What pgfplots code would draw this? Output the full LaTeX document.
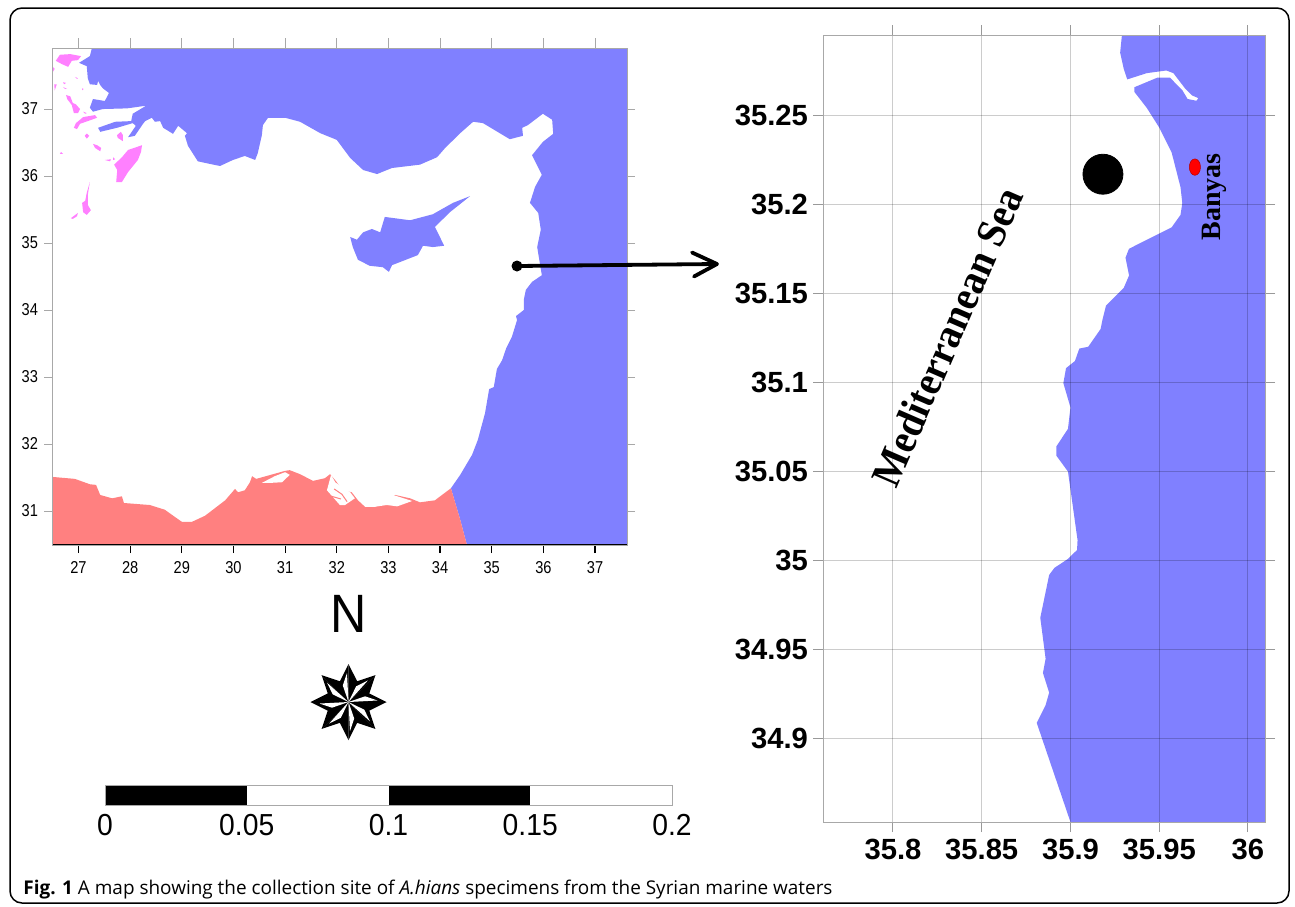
\documentclass[border=0pt]{standalone}
\usepackage{pgfplots}
\pgfplotsset{compat=1.18}
\usepackage{fontspec}
\setmainfont{Liberation Sans}
\newfontfamily\nar[FakeStretch=0.85]{Liberation Sans}
\newfontfamily\narb[FakeStretch=0.93]{Liberation Sans}
\newfontfamily\capf{Open Sans}
\newfontfamily\tms{Liberation Serif}
\newfontfamily\tmsn[FakeStretch=0.93]{Liberation Serif}
\definecolor{seablue}{HTML}{8080FF}
\definecolor{landred}{HTML}{FF8080}
\definecolor{isle}{HTML}{FF80FF}
\definecolor{edge}{HTML}{A8A8A8}
\pgfplotstableread{
lon lat
27.26 37.911
27.22 37.79
27.01 37.69
27.16 37.64
27.18 37.46
27.22 37.37
27.36 37.36
27.38 37.42
27.42 37.36
27.47 37.31
27.59 37.24
27.51 37.12
27.28 37.15
27.22 37.02
27.28 36.96
27.47 37.00
27.94 37.01
28.31 37.05
28.05 36.93
28.02 36.82
27.71 36.81
27.38 36.72
27.42 36.66
27.745 36.72
28.05 36.79
28.11 36.75
27.96 36.58
28.09 36.60
28.25 36.78
28.29 36.82
28.42 36.87
28.48 36.81
28.58 36.82
28.64 36.72
28.83 36.63
28.93 36.75
29.10 36.64
29.06 36.60
29.12 36.45
29.31 36.22
29.55 36.18
29.74 36.15
29.99 36.24
30.22 36.30
30.42 36.24
30.47 36.34
30.55 36.61
30.57 36.76
30.67 36.87
31.00 36.87
31.29 36.81
31.68 36.64
32.00 36.54
32.26 36.27
32.51 36.09
32.78 36.03
33.07 36.12
33.61 36.17
33.94 36.28
34.10 36.42
34.39 36.64
34.64 36.81
34.83 36.79
35.35 36.55
35.605 36.60
35.59 36.72
35.70 36.76
35.99 36.93
36.17 36.84
36.19 36.63
35.99 36.51
35.78 36.31
35.97 36.02
35.84 35.84
35.74 35.60
35.90 35.45
35.95 35.20
35.88 34.94
35.97 34.52
35.78 34.42
35.66 34.30
35.62 34.15
35.62 34.00
35.47 33.91
35.49 33.85
35.39 33.60
35.28 33.43
35.20 33.25
35.10 33.12
35.04 32.85
34.95 32.82
34.87 32.46
34.73 32.06
34.62 31.84
34.39 31.54
34.21 31.34
34.39 30.87
34.52 30.493
37.619 30.493
37.619 37.911
}\seaN
\pgfplotstableread{
lon lat
32.26 35.09
32.39 35.05
32.51 35.16
32.68 35.21
32.84 35.16
32.93 35.39
33.42 35.34
33.86 35.43
34.25 35.60
34.58 35.70
34.19 35.46
33.90 35.24
34.08 34.96
33.86 34.94
33.67 34.96
33.57 34.82
33.07 34.67
33.01 34.57
32.89 34.64
32.64 34.66
32.41 34.75
32.31 34.94
}\cyprus
\pgfplotstableread{
lon lat
26.487 30.493
26.487 31.51
26.93 31.48
27.22 31.40
27.34 31.39
27.42 31.24
27.65 31.19
27.84 31.22
27.88 31.12
28.38 31.09
28.67 31.02
28.87 30.91
29.00 30.84
29.20 30.84
29.45 30.93
29.84 31.16
30.03 31.33
30.09 31.28
30.22 31.31
30.32 31.43
30.36 31.52
30.44 31.48
31.00 31.60
31.09 31.61
31.29 31.55
31.54 31.45
31.77 31.49
31.87 31.55
31.97 31.46
32.12 31.31
32.29 31.28
32.41 31.16
32.55 31.06
32.74 31.06
33.13 31.24
33.42 31.19
33.61 31.13
33.90 31.16
34.21 31.34
34.39 30.87
34.52 30.493
}\south
\pgfplotstableread{
lon lat
35.929 35.2949
35.928 35.285
35.930 35.276
35.932 35.270
35.943 35.2735
35.954 35.275
35.958 35.2735
35.9645 35.265
35.9685 35.261
35.972 35.2595
35.971 35.258
35.966 35.259
35.963 35.264
35.956 35.271
35.949 35.271
35.936 35.2656
35.936 35.263
35.943 35.254
35.950 35.243
35.957 35.229
35.962 35.2095
35.963 35.2006
35.962 35.194
35.957 35.187
35.933 35.175
35.931 35.170
35.933 35.160
35.930 35.153
35.920 35.143
35.918 35.135
35.917 35.130
35.910 35.120
35.905 35.119
35.9025 35.112
35.8975 35.108
35.896 35.0996
35.900 35.086
35.8986 35.074
35.892 35.064
35.892 35.059
35.8986 35.050
35.904 35.0115
35.9037 35.006
35.8986 35.001
35.891 34.996
35.888 34.992
35.883 34.968
35.886 34.945
35.8845 34.937
35.888 34.926
35.886 34.919
35.881 34.909
35.900 34.8534
36.0096 34.8534
36.0096 35.2949
}\coast
\begin{document}
\begin{tikzpicture}
\useasboundingbox (0,0) rectangle (647.5pt,-453pt);
% ---- left map
\begin{axis}[
  at={(26pt,-272.5pt)}, anchor=south west, scale only axis,
  width=287.5pt, height=248.5pt,
  xmin=26.487, xmax=37.619, ymin=30.493, ymax=37.911,
  xtick={27,28,29,30,31,32,33,34,35,36,37}, ytick={31,32,33,34,35,36,37},
  xticklabels={27,28,29,30,31,32,33,34,35,36,37}, yticklabels={31,32,33,34,35,36,37},
  xtick pos=bottom, ytick pos=both, yticklabel pos=left,
  tick align=outside, major tick length=4pt,
  xtick style={black,line width=.6pt}, ytick style={edge,line width=.5pt},
  axis line style={edge,line width=.5pt},
  tick label style={font=\nar\fontsize{8.6}{10}\selectfont},
  xticklabel style={yshift=-0.5pt}, yticklabel style={xshift=0.5pt},
  axis on top,
]
\addplot[fill=seablue,draw=none] table[x=lon,y=lat]{\seaN} --cycle;
\addplot[fill=seablue,draw=none] table[x=lon,y=lat]{\cyprus} --cycle;
\addplot[fill=landred,draw=none] table[x=lon,y=lat]{\south} --cycle;
% lagoons
\addplot[fill=white,draw=none] coordinates {(30.55,31.42)(30.80,31.52)(31.00,31.58)(31.09,31.54)(30.94,31.43)(30.71,31.42)} --cycle;
\addplot[fill=white,draw=none] coordinates {(31.89,31.54)(31.97,31.43)(32.26,31.28)(32.35,31.19)(32.16,31.09)(32.06,31.09)(31.81,31.31)} --cycle;
\addplot[landred,line width=.5pt] coordinates {(31.95,31.33)(32.10,31.25)(32.20,31.14)};
\addplot[landred,line width=.5pt] coordinates {(31.90,31.22)(32.08,31.18)};
\addplot[fill=white,draw=none] coordinates {(32.70,31.06)(33.09,31.24)(33.46,31.15)(33.17,31.07)(32.97,31.09)} --cycle;
% islands
\addplot[fill=isle,draw=none] coordinates {(28.23,36.46)(27.96,36.39)(27.84,36.28)(27.69,36.17)(27.75,36.09)(27.73,35.91)(27.84,35.91)(27.96,36.06)(28.15,36.24)(28.21,36.36)} --cycle;
\addplot[fill=isle,draw=none] coordinates {(27.22,35.91)(27.16,35.75)(27.13,35.63)(27.07,35.60)(27.09,35.46)(27.16,35.42)(27.24,35.49)(27.18,35.57)(27.18,35.72)} --cycle;
\addplot[fill=isle,draw=none] coordinates {(26.85,35.37)(26.99,35.45)(26.97,35.40)(26.89,35.36)} --cycle;
\addplot[fill=isle,draw=none] coordinates {(26.56,37.72)(26.64,37.81)(26.84,37.82)(27.05,37.79)(26.99,37.73)(26.87,37.72)(26.80,37.63)(26.68,37.67)} --cycle;
\addplot[fill=isle,draw=none] coordinates {(26.487,37.64)(26.54,37.60)(26.50,37.55)} --cycle;
\addplot[fill=isle,draw=none] coordinates {(26.53,37.37)(26.58,37.37)(26.54,37.28)} --cycle;
\addplot[fill=isle,draw=none] coordinates {(26.70,37.33)(26.78,37.30)(26.74,37.30)} --cycle;
\addplot[fill=isle,draw=none] coordinates {(26.93,37.48)(26.99,37.46)(26.97,37.45)} --cycle;
\addplot[fill=isle,draw=none] coordinates {(27.07,37.31)(27.10,37.30)(27.07,37.28)} --cycle;
\addplot[fill=isle,draw=none] coordinates {(26.70,37.40)(26.76,37.39)(26.72,37.37)} --cycle;
\addplot[fill=isle,draw=none] coordinates {(26.76,37.21)(26.84,37.19)(26.89,37.09)(26.95,37.07)(27.03,37.00)(26.99,36.94)(26.91,36.94)(26.87,37.06)(26.78,37.15)} --cycle;
\addplot[fill=isle,draw=none] coordinates {(27.09,36.96)(27.16,36.94)(27.13,36.93)} --cycle;
\addplot[fill=isle,draw=none] coordinates {(26.91,36.72)(26.95,36.79)(27.09,36.88)(27.32,36.91)(27.36,36.87)(27.18,36.82)(27.03,36.78)(26.97,36.70)} --cycle;
\addplot[fill=isle,draw=none] coordinates {(27.12,36.60)(27.16,36.635)(27.21,36.60)(27.16,36.56)} --cycle;
\addplot[fill=isle,draw=none] coordinates {(27.28,36.48)(27.36,36.46)(27.44,36.42)(27.42,36.37)(27.32,36.42)} --cycle;
\addplot[fill=isle,draw=none] coordinates {(27.745,36.61)(27.82,36.66)(27.86,36.61)(27.86,36.52)(27.76,36.57)} --cycle;
\addplot[fill=isle,draw=none] coordinates {(27.51,36.24)(27.63,36.25)(27.61,36.22)} --cycle;
\addplot[fill=isle,draw=none] coordinates {(27.67,36.28)(27.71,36.25)(27.67,36.24)} --cycle;
\addplot[fill=isle,draw=none] coordinates {(26.66,36.36)(26.70,36.33)(26.64,36.33)} --cycle;
\draw[black,line width=.9pt] (rel axis cs:0,0)--(rel axis cs:1,0);
\end{axis}
% top ticks of the left map, grey
\begin{axis}[
  at={(26pt,-272.5pt)}, anchor=south west, scale only axis,
  width=287.5pt, height=248.5pt,
  xmin=26.487, xmax=37.619, ymin=30.493, ymax=37.911,
  xtick={27,28,29,30,31,32,33,34,35,36,37}, ytick=\empty, xtick pos=top, xticklabels={},
  tick align=outside, major tick length=5pt,
  xtick style={edge,line width=.5pt}, axis line style={draw=none},
]
\end{axis}
% ---- right map
\begin{axis}[
  at={(411.5pt,-411pt)}, anchor=south west, scale only axis,
  width=221pt, height=393.5pt,
  xmin=35.7606, xmax=36.0096, ymin=34.8534, ymax=35.2949,
  xtick={35.8,35.85,35.9,35.95,36},
  ytick={34.9,34.95,35,35.05,35.1,35.15,35.2,35.25},
  xticklabels={35.8,35.85,35.9,35.95,36},
  yticklabels={34.9,34.95,35,35.05,35.1,35.15,35.2,35.25},
  tick align=outside, major tick length=5pt,
  xtick pos=both, ytick pos=both, xticklabel pos=bottom, yticklabel pos=left,
  grid=major, grid style={black,opacity=.2,line width=.5pt},
  tick style={black!40,line width=.5pt},
  axis line style={edge,line width=.5pt},
  tick label style={font=\bfseries\fontsize{14.6}{16}\selectfont},
  yticklabel style={xshift=1pt}, xticklabel style={yshift=0pt},
  axis on top,
]
\addplot[fill=seablue,draw=none] table[x=lon,y=lat]{\coast} --cycle;
\addplot[only marks,mark=*,mark size=10pt,mark options={fill=black,draw=black}] coordinates {(35.9183,35.2168)};
\addplot[only marks,mark=*,mark size=4.1pt,mark options={fill=red,draw=red!70!black,line width=.25pt,xscale=.68}] coordinates {(35.9701,35.2208)};
\end{axis}
% ---- scale bar
\begin{axis}[
  at={(52.5pt,-402.5pt)}, anchor=south west, scale only axis,
  width=283.5pt, height=10pt,
  xmin=0, xmax=0.2, ymin=0, ymax=1,
  xtick={0,0.05,0.1,0.15,0.2}, ytick=\empty,
  xticklabels={0,0.05,0.1,0.15,0.2},
  xtick pos=bottom, major tick length=0pt,
  axis line style={edge,line width=.5pt},
  tick label style={font=\narb\fontsize{15.2}{18}\selectfont},
  xticklabel style={yshift=-1pt},
  axis on top,
]
\addplot[fill=black,draw=none] coordinates {(0,0)(0.05,0)(0.05,1)(0,1)} --cycle;
\addplot[fill=black,draw=none] coordinates {(0.1,0)(0.15,0)(0.15,1)(0.1,1)} --cycle;
\end{axis}
% ---- annotations, in pixels of the page
\begin{scope}[x=0.5pt,y=-0.5pt]
\draw[black,line width=.75pt,rounded corners=6pt] (10,8) rectangle (1289,903);
\fill[black] (517,266) circle (5.5);
\draw[black,line width=1.9pt] (517,266) -- (716,264);
\draw[black,line width=1.9pt,line cap=round,line join=round] (692,252.5) -- (717,264) -- (694,276.5);
\node[font=\narb\fontsize{27}{30}\selectfont,inner sep=0pt] at (349,614) {N};
\begin{scope}[shift={(348.5,702)}]
\foreach \a in {0,45,...,315}{
  \fill[black] (0,0) -- (\a:38) -- (\a+22.5:22.5) -- (\a+45:38) -- cycle;
}
\foreach \a in {0,45,...,315}{
  % in this scope y runs downward, so a growing angle turns clockwise
  \fill[white] (0,0) -- (\a-3:29) -- (\a-19:17.5) -- cycle;
}
\end{scope}
\node[font=\tmsn\bfseries\fontsize{21}{24}\selectfont,rotate=66.5,inner sep=0pt] at (947,337) {Mediterranean Sea};
\node[font=\tms\bfseries\fontsize{14}{16}\selectfont,rotate=90,inner sep=0pt] at (1214,197) {Banyas};
\node[font=\capf\fontsize{9.47}{11}\selectfont,anchor=base west,inner sep=0pt] at (23,894)
  {\textbf{Fig. 1} A map showing the collection site of \textit{A.hians} specimens from the Syrian marine waters};
\end{scope}
\end{tikzpicture}
\end{document}
